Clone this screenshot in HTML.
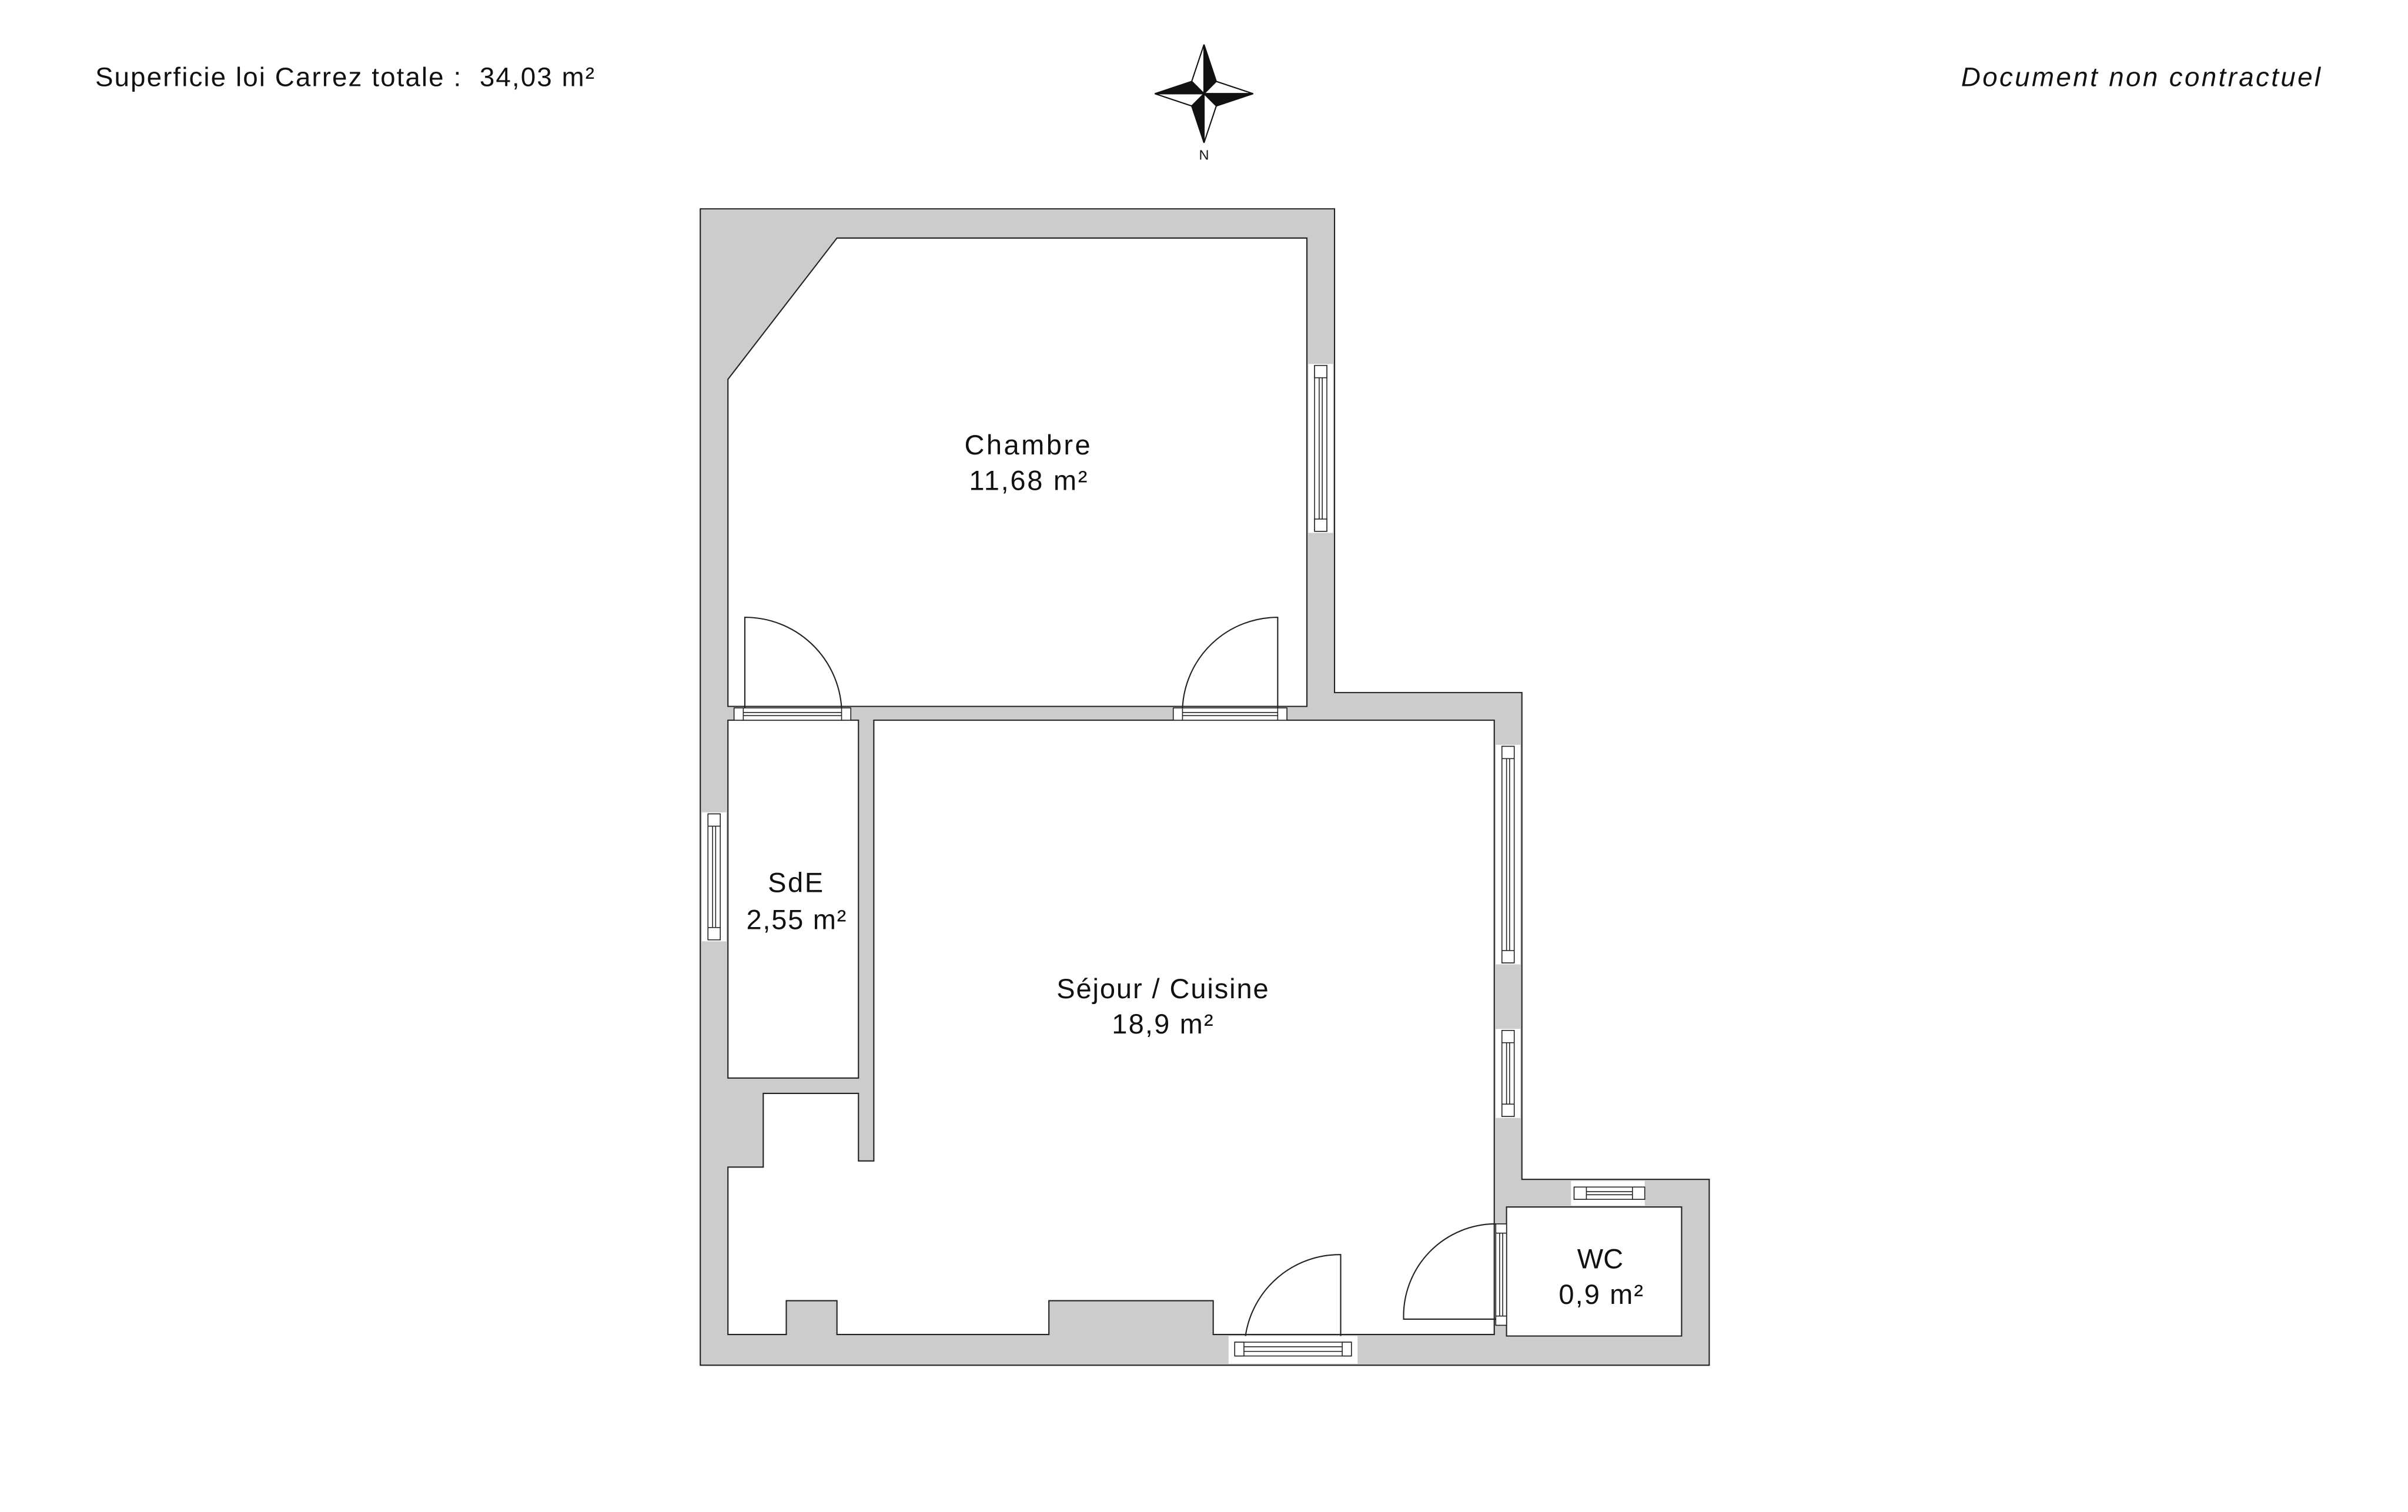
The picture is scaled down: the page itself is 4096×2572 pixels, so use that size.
<!DOCTYPE html>
<html><head><meta charset="utf-8"><style>
html,body{margin:0;padding:0;background:#fff;}
svg{display:block;}
text{font-family:"Liberation Sans",sans-serif;fill:#111;}
</style></head><body>
<svg width="4096" height="2572" viewBox="0 0 1568 984.6" xmlns="http://www.w3.org/2000/svg">
<rect x="0" y="0" width="1568" height="984.6" fill="#fff"/>
<text x="62" y="56" font-size="17.5" textLength="325" lengthAdjust="spacing" xml:space="preserve">Superficie loi Carrez totale :  34,03 m²</text>
<text x="1277" y="56" font-size="17.5" font-style="italic" textLength="234" lengthAdjust="spacing">Document non contractuel</text>
<g stroke="#111" stroke-width="0.8" stroke-linejoin="miter">
<polygon points="784,29 776,53 784,61" fill="#fff"/>
<polygon points="784,29 792,53 784,61" fill="#111"/>
<polygon points="816,61 792,53 784,61" fill="#fff"/>
<polygon points="816,61 792,69 784,61" fill="#111"/>
<polygon points="784,93 792,69 784,61" fill="#fff"/>
<polygon points="784,93 776,69 784,61" fill="#111"/>
<polygon points="752,61 776,69 784,61" fill="#fff"/>
<polygon points="752,61 776,53 784,61" fill="#111"/>
</g>
<text x="784" y="104" font-size="9" text-anchor="middle">N</text>

<g stroke="#222" stroke-width="0.8">
<polygon points="456,136 869,136 869,451 991,451 991,768 1113,768 1113,889 456,889" fill="#cccccc"/>
<polygon points="545,155 851,155 851,460 474,460 474,247" fill="#fff"/>
<polygon points="474,469 559,469 559,702 474,702" fill="#fff"/>
<polygon points="569,469 973,469 973,869 790,869 790,847 683,847 683,869 545,869 545,847 512,847 512,869 474,869 474,760 497,760 497,712 559,712 559,756 569,756" fill="#fff"/>
<polygon points="981,786 1095,786 1095,870 981,870" fill="#fff"/>
</g>

<g fill="#fff" stroke="#222" stroke-width="0.6">
<rect x="852" y="237" width="16" height="110" stroke="none"/>
<rect x="856" y="238" width="8" height="108"/>
<rect x="856" y="238" width="8" height="8"/><rect x="856" y="338" width="8" height="8"/>
<line x1="859" y1="246" x2="859" y2="338"/><line x1="861" y1="246" x2="861" y2="338"/>
<rect x="974" y="485" width="16" height="143" stroke="none"/>
<rect x="978" y="486" width="8" height="141"/>
<rect x="978" y="486" width="8" height="8"/><rect x="978" y="619" width="8" height="8"/>
<line x1="981" y1="494" x2="981" y2="619"/><line x1="983" y1="494" x2="983" y2="619"/>
<rect x="974" y="670" width="16" height="58" stroke="none"/>
<rect x="978" y="671" width="8" height="56"/>
<rect x="978" y="671" width="8" height="8"/><rect x="978" y="719" width="8" height="8"/>
<line x1="981" y1="679" x2="981" y2="719"/><line x1="983" y1="679" x2="983" y2="719"/>
<rect x="457" y="529" width="16" height="84" stroke="none"/>
<rect x="461" y="530" width="8" height="82"/>
<rect x="461" y="530" width="8" height="8"/><rect x="461" y="604" width="8" height="8"/>
<line x1="464" y1="538" x2="464" y2="604"/><line x1="466" y1="538" x2="466" y2="604"/>
<rect x="1023" y="769" width="48" height="16" stroke="none"/>
<rect x="1025" y="773" width="46" height="8"/>
<rect x="1025" y="773" width="8" height="8"/><rect x="1063" y="773" width="8" height="8"/>
<line x1="1033" y1="776" x2="1063" y2="776"/><line x1="1033" y1="778" x2="1063" y2="778"/>
<rect x="478" y="461" width="76" height="8"/>
<rect x="478" y="461" width="6" height="8"/><rect x="548" y="461" width="6" height="8"/>
<line x1="484" y1="464" x2="548" y2="464"/><line x1="484" y1="466" x2="548" y2="466"/>
<rect x="764" y="461" width="74" height="8"/>
<rect x="764" y="461" width="6" height="8"/><rect x="832" y="461" width="6" height="8"/>
<line x1="770" y1="464" x2="832" y2="464"/><line x1="770" y1="466" x2="832" y2="466"/>
<rect x="800" y="870" width="84" height="18" stroke="none"/>
<rect x="804" y="874" width="76" height="9"/>
<rect x="804" y="874" width="6" height="9"/><rect x="874" y="874" width="6" height="9"/>
<line x1="810" y1="877" x2="874" y2="877"/><line x1="810" y1="880" x2="874" y2="880"/>
<rect x="974" y="797" width="7" height="66"/>
<rect x="974" y="797" width="7" height="6"/><rect x="974" y="857" width="7" height="6"/>
<line x1="976.5" y1="803" x2="976.5" y2="857"/><line x1="978.5" y1="803" x2="978.5" y2="857"/>
</g>
<g fill="none" stroke="#222" stroke-width="0.8">
<path d="M485,461 L485,402 A63,63 0 0 1 548,461"/>
<path d="M832,461 L832,402 A62,62 0 0 0 770,461"/>
<path d="M873,870 L873,817 A62,62 0 0 0 811,870"/>
<path d="M974,859 L914,859 A60,60 0 0 1 974,797"/>
</g>

<g font-size="18" lengthAdjust="spacing">
<text x="628" y="296" textLength="82">Chambre</text>
<text x="631" y="319" textLength="77">11,68 m²</text>
<text x="500" y="581" textLength="36">SdE</text>
<text x="486" y="605" textLength="65">2,55 m²</text>
<text x="688" y="650" textLength="138">Séjour / Cuisine</text>
<text x="724" y="673" textLength="66">18,9 m²</text>
<text x="1042" y="826" text-anchor="middle">WC</text>
<text x="1015" y="849" textLength="55">0,9 m²</text>
</g>
</svg>
</body></html>
